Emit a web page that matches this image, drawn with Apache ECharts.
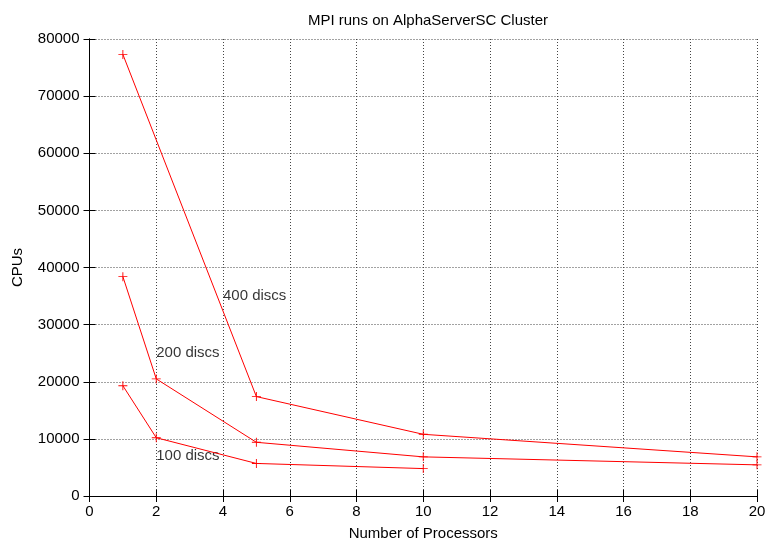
<!DOCTYPE html>
<html>
<head>
<meta charset="utf-8">
<script src="https://cdn.jsdelivr.net/npm/echarts@6/dist/echarts.min.js"></script>
<style>html,body{margin:0;padding:0;background:#fff;}#c{width:770px;height:546px;}</style>
</head>
<body>
<div id="c"></div>
<script>
var titleText = 'MPI runs on AlphaServerSC Cluster';
var xName = 'Number of Processors';
var yName = 'CPUs';
var procs400 = [1, 5, 10, 20];
var cpus400 = [77300, 17400, 10800, 6850];
var procs200 = [1, 2, 5, 10, 20];
var cpus200 = [38400, 20500, 9400, 6850, 5450];
var procs100 = [1, 2, 5, 10];
var cpus100 = [19300, 10200, 5700, 4800];
var labelTexts = ['400 discs', '200 discs', '100 discs'];
var labelX = [4, 2, 2];
var labelY = [35000, 25000, 7000];

function pairs(xs, ys) { return xs.map(function (x, i) { return [x, ys[i]]; }); }

var FONT = 'Liberation Sans';
var plus = 'path://M4.5,0h1v4.5h4.5v1h-4.5v4.5h-1v-4.5h-4.5v-1h4.5z';
function lineSeries(data) {
  return {
    type: 'line', data: data, symbol: plus, symbolSize: 9,
    itemStyle: { color: '#ff0000' },
    lineStyle: { color: '#ff0000', width: 1 },
    animation: false, silent: true, xAxisIndex: 0, yAxisIndex: 0
  };
}
var gridLine = { show: true, lineStyle: { color: '#444', type: [1, 2], width: 1 } };
var axisLine = { show: true, lineStyle: { color: '#000', width: 1 } };
var tick = { show: true, inside: true, length: 6, lineStyle: { color: '#000' } };
var tickLabel = { fontFamily: FONT, fontSize: 15, color: '#000', formatter: function (v) { return String(v); } };

var chart = echarts.init(document.getElementById('c'), null, { renderer: 'canvas' });
chart.setOption({
  animation: false,
  backgroundColor: '#fff',
  title: { text: titleText, left: 423, textAlign: 'center', top: 8,
    textStyle: { fontFamily: FONT, fontSize: 15, fontWeight: 'normal', color: '#000' } },
  grid: { left: 89.5, right: 13, top: 39, bottom: 50 },
  xAxis: [
    { type: 'value', min: 0, max: 20, interval: 2, position: 'bottom',
      name: xName, nameLocation: 'middle', nameGap: 30,
      nameTextStyle: { fontFamily: FONT, fontSize: 15, color: '#000' },
      axisLine: axisLine, axisTick: tick, splitLine: gridLine,
      axisLabel: Object.assign({ margin: 8 }, tickLabel) },
    { type: 'value', min: 0, max: 20, interval: 2, position: 'top',
      axisLine: axisLine, axisTick: tick, splitLine: { show: false }, axisLabel: { show: false } }
  ],
  yAxis: [
    { type: 'value', min: 0, max: 80000, interval: 10000, position: 'left',
      name: yName, nameLocation: 'middle', nameGap: 64,
      nameTextStyle: { fontFamily: FONT, fontSize: 15, color: '#000' },
      axisLine: axisLine, axisTick: tick, splitLine: gridLine,
      axisLabel: Object.assign({ margin: 10 }, tickLabel) },
    { type: 'value', min: 0, max: 80000, interval: 10000, position: 'right',
      axisLine: axisLine, axisTick: tick, splitLine: { show: false }, axisLabel: { show: false } }
  ],
  series: [
    lineSeries(pairs(procs400, cpus400)),
    lineSeries(pairs(procs200, cpus200)),
    lineSeries(pairs(procs100, cpus100)),
    {
      type: 'scatter', symbolSize: 0, silent: true, xAxisIndex: 0, yAxisIndex: 0,
      data: labelTexts.map(function (t, i) { return [labelX[i], labelY[i], t]; }),
      label: { show: true, position: 'right', distance: 0,
        formatter: function (p) { return p.value[2]; },
        fontFamily: FONT, fontSize: 15, color: '#000' }
    }
  ]
});
</script>
</body>
</html>
